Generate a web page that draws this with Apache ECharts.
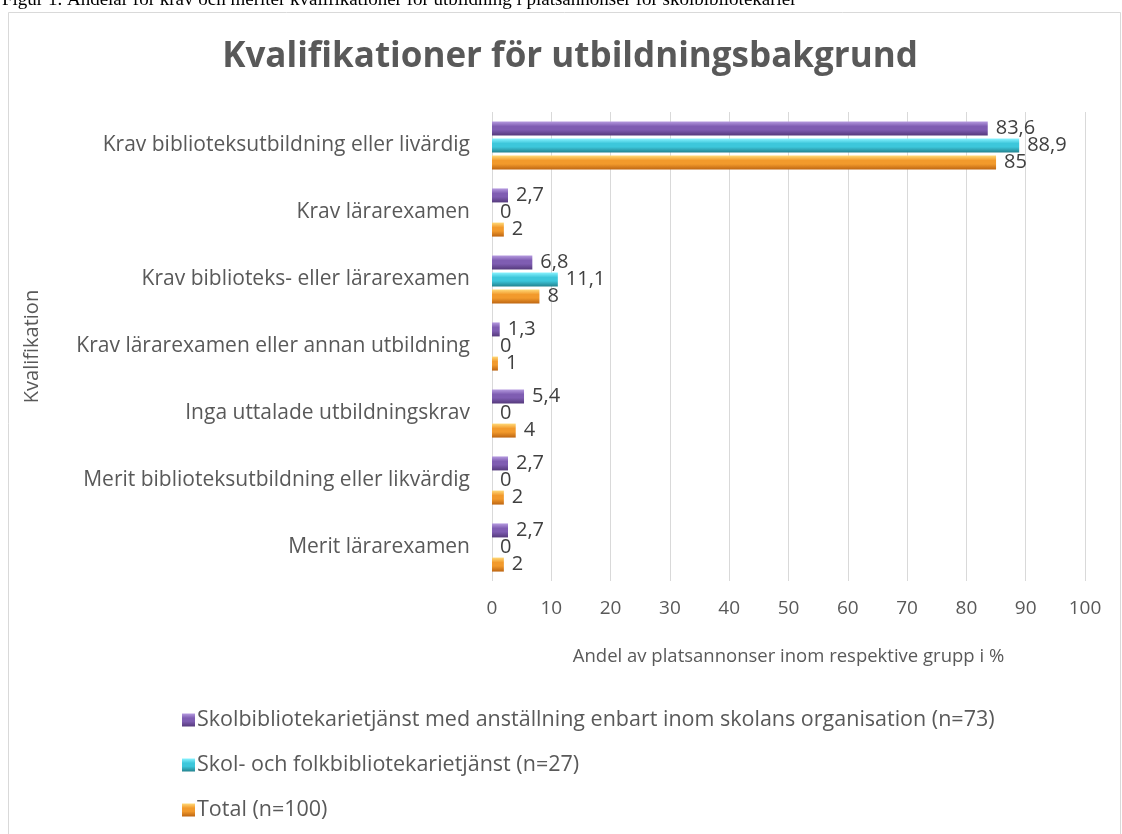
<!DOCTYPE html>
<html>
<head>
<meta charset="utf-8">
<script src="https://cdn.jsdelivr.net/npm/echarts@6/dist/echarts.min.js"></script>
<style>
    html, body { margin: 0; padding: 0; background: #fff; }
    #chart { width: 1122px; height: 834px; }
</style>
</head>
<body>
<div id="chart"></div>
<script>
    // kategorier uppifrån och ned
    var categories = [
        'Krav biblioteksutbildning eller livärdig',
        'Krav lärarexamen',
        'Krav biblioteks- eller lärarexamen',
        'Krav lärarexamen eller annan utbildning',
        'Inga uttalade utbildningskrav',
        'Merit biblioteksutbildning eller likvärdig',
        'Merit lärarexamen'
    ];
    var seriesNames = [
        'Skolbibliotekarietjänst med anställning enbart inom skolans organisation (n=73)',
        'Skol- och folkbibliotekarietjänst (n=27)',
        'Total (n=100)'
    ];
    var skolValues = [83.6, 2.7, 6.8, 1.3, 5.4, 2.7, 2.7];
    var skolFolkValues = [88.9, 0, 11.1, 0, 0, 0, 0];
    var totalValues = [85, 2, 8, 1, 4, 2, 2];
    var xTicks = [0, 10, 20, 30, 40, 50, 60, 70, 80, 90, 100];

    var font = 'Open Sans';
    var textColor = '#595959';

    function grad(top, mid, bottom) {
        return new echarts.graphic.LinearGradient(0, 0, 0, 1, [
            { offset: 0, color: top },
            { offset: 0.35, color: mid },
            { offset: 0.6, color: mid },
            { offset: 1, color: bottom }
        ]);
    }
    var colors = [
        grad('#b69be0', '#7f5db2', '#553a7c'),
        grad('#8af3ff', '#3dc7db', '#24838f'),
        grad('#ffd978', '#f29a2c', '#bd6512')
    ];

    function makeSeries(i, data) {
        return {
            name: seriesNames[i],
            type: 'bar',
            data: data,
            barWidth: 14,
            barGap: '22%',
            itemStyle: { color: colors[i] },
            label: {
                show: true,
                position: 'right',
                distance: 8,
                color: '#404040',
                fontFamily: font,
                fontSize: 20,
                formatter: function (p) {
                    return String(p.value).replace('.', ',');
                }
            }
        };
    }

    var myChart = echarts.init(document.getElementById('chart'));
    var option = {
        backgroundColor: '#fff',
        animation: false,
        textStyle: { fontFamily: font },
        graphic: [
            {
                type: 'rect',
                shape: { x: 8.5, y: 12.5, width: 1112, height: 840 },
                style: { fill: '#fff', stroke: '#d9d9d9', lineWidth: 1 },
                z: -10
            },
            {
                type: 'text',
                x: 2,
                y: 10,
                style: {
                    text: 'Figur 1. Andelar för krav och meriter kvalifikationer för utbildning i platsannonser för skolbibliotekarier',
                    font: '19px "Liberation Serif"',
                    fill: '#000',
                    verticalAlign: 'bottom'
                }
            }
        ],
        title: {
            text: 'Kvalifikationer för utbildningsbakgrund',
            left: 565,
            top: 35,
            textAlign: 'center',
            textStyle: {
                fontFamily: font,
                fontSize: 35,
                fontWeight: 'bold',
                color: textColor
            }
        },
        legend: {
            orient: 'vertical',
            left: 177,
            top: 704,
            itemWidth: 13,
            itemHeight: 13,
            itemGap: 23,
            icon: 'rect',
            textStyle: { fontFamily: font, fontSize: 21.5, color: textColor, padding: [0, 0, 0, -3] },
            data: seriesNames
        },
        grid: {
            left: 492,
            right: 37,
            top: 112,
            bottom: 834 - 581
        },
        xAxis: {
            type: 'value',
            min: 0,
            max: 100,
            interval: 10,
            name: 'Andel av platsannonser inom respektive grupp i %',
            nameLocation: 'middle',
            nameGap: 66,
            nameTextStyle: { fontFamily: font, fontSize: 18.5, color: textColor },
            axisLine: { show: false },
            axisTick: { show: false },
            axisLabel: {
                margin: 18,
                fontFamily: font,
                fontSize: 19,
                color: textColor,
                formatter: function (v) { return xTicks.indexOf(v) >= 0 ? String(v) : ''; }
            },
            splitLine: { show: true, lineStyle: { color: '#d9d9d9', width: 1 } }
        },
        yAxis: {
            type: 'category',
            data: categories,
            inverse: true,
            name: 'Kvalifikation',
            nameLocation: 'middle',
            nameGap: 450,
            nameRotate: 90,
            nameTextStyle: { fontFamily: font, fontSize: 20, color: textColor },
            axisLine: { show: false },
            axisTick: { show: false },
            axisLabel: {
                margin: 22,
                fontFamily: font,
                fontSize: 21,
                color: textColor
            },
            splitLine: { show: false }
        },
        series: [
            makeSeries(0, skolValues),
            makeSeries(1, skolFolkValues),
            makeSeries(2, totalValues)
        ]
    };
    myChart.setOption(option);
</script>
</body>
</html>
